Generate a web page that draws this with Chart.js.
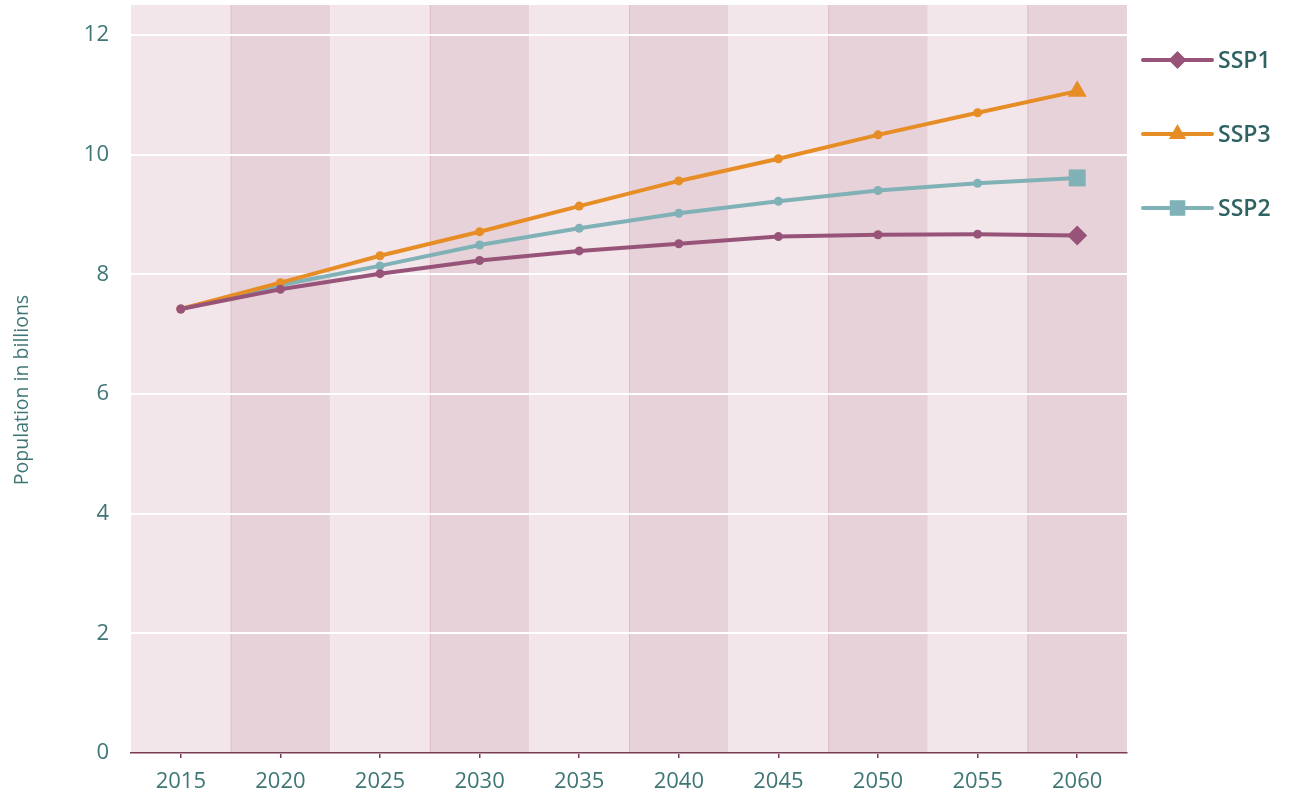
<!DOCTYPE html>
<html>
<head>
<meta charset="utf-8">
<script src="https://cdn.jsdelivr.net/npm/chart.js@4/dist/chart.umd.min.js"></script>
<style>
  html, body { margin: 0; padding: 0; background: #fff; }
  #wrap { width: 1293px; height: 798px; position: relative; }
</style>
</head>
<body>
<div id="wrap"><canvas id="popChart"></canvas></div>
<script>
// population projections, billions
const years = ['2015', '2020', '2025', '2030', '2035', '2040', '2045', '2050', '2055', '2060'];
const ssp1 = [7.42, 7.75, 8.01, 8.23, 8.39, 8.51, 8.63, 8.66, 8.67, 8.65];
const ssp3 = [7.42, 7.86, 8.31, 8.71, 9.14, 9.56, 9.93, 10.33, 10.70, 11.06];
const ssp2 = [7.42, 7.82, 8.14, 8.49, 8.77, 9.02, 9.22, 9.40, 9.52, 9.61];
const yTicks = [0, 2, 4, 6, 8, 10, 12];
const yTitle = 'Population in billions';

const colors = {
  ssp1: '#985478',
  ssp3: '#e68d26',
  ssp2: '#80b1b6',
  text: '#3e7676',
  legendText: '#2f6262',
  axis: '#7a3a55',
  bandLight: '#f3e6eb',
  bandDark: '#e8d2da',
  bandEdge: '#dcbcc8'
};
const FONT = "'Open Sans', 'Noto Sans', sans-serif";

// legend order and end-marker styles
const series = [
  { label: 'SSP1', data: ssp1, color: colors.ssp1, style: 'rectRot', radius: 10 },
  { label: 'SSP3', data: ssp3, color: colors.ssp3, style: 'triangle', radius: 11 },
  { label: 'SSP2', data: ssp2, color: colors.ssp2, style: 'rect', radius: 12 }
];

// alternating vertical bands behind the plot
const bandPlugin = {
  id: 'bands',
  beforeDraw(chart) {
    const { ctx, chartArea: a, scales: { x } } = chart;
    const w = x.getPixelForValue(1) - x.getPixelForValue(0);
    ctx.save();
    years.forEach((_, i) => {
      const cx = x.getPixelForValue(i);
      const l = Math.max(a.left, cx - w / 2), r = Math.min(a.right, cx + w / 2);
      ctx.fillStyle = i % 2 ? colors.bandDark : colors.bandLight;
      ctx.fillRect(l, a.top, r - l, a.bottom - a.top);
      if (i % 2) {
        ctx.fillStyle = colors.bandEdge;
        ctx.fillRect(l, a.top, 1, a.bottom - a.top);
      }
    });
    // rotated axis title, sits a little below the middle of the axis
    ctx.translate(22, 390);
    ctx.rotate(-Math.PI / 2);
    ctx.fillStyle = colors.text;
    ctx.font = '19.5px ' + FONT;
    ctx.textAlign = 'center';
    ctx.textBaseline = 'middle';
    ctx.fillText(yTitle, 0, 0);
    ctx.restore();
  }
};

// legend on the right: line with its marker, then the name
const sideLegend = {
  id: 'sideLegend',
  afterDraw(chart) {
    const ctx = chart.ctx;
    const x0 = 1143, x1 = 1212, rowY = [60, 134, 208];
    ctx.save();
    series.forEach((s, i) => {
      const y = rowY[i];
      ctx.strokeStyle = s.color;
      ctx.lineWidth = 4;
      ctx.lineCap = 'round';
      ctx.beginPath();
      ctx.moveTo(x0, y);
      ctx.lineTo(x1, y);
      ctx.stroke();
      ctx.fillStyle = s.color;
      Chart.helpers.drawPoint(ctx, { pointStyle: s.style, rotation: 0, radius: s.radius - 1, borderWidth: 0 }, (x0 + x1) / 2, y);
      ctx.fillStyle = colors.legendText;
      ctx.font = '600 23px ' + FONT;
      ctx.textBaseline = 'middle';
      ctx.fillText(s.label, 1218, y + 1);
    });
    ctx.restore();
  }
};

new Chart(document.getElementById('popChart'), {
  type: 'line',
  data: {
    labels: years,
    datasets: series.map(s => ({
      label: s.label,
      data: s.data,
      borderColor: s.color,
      backgroundColor: s.color,
      borderWidth: 4,
      tension: 0,
      pointBorderWidth: 0,
      pointStyle: ctx => ctx.dataIndex === years.length - 1 ? s.style : 'circle',
      pointRadius: ctx => ctx.dataIndex === years.length - 1 ? s.radius : 4.5
    }))
  },
  options: {
    responsive: true,
    maintainAspectRatio: false,
    animation: false,
    layout: { autoPadding: false, padding: { top: 5, right: 166, bottom: 0, left: 0 } },
    plugins: { legend: { display: false }, tooltip: { enabled: false } },
    scales: {
      x: {
        offset: true,
        grid: { drawOnChartArea: false, tickLength: 5, color: colors.axis, lineWidth: 1.5 },
        border: { color: colors.axis, width: 1.5 },
        ticks: { color: colors.text, font: { family: FONT, size: 22 }, padding: 11 },
        afterFit(scale) { scale.height = 45; }
      },
      y: {
        min: 0,
        max: 12.5,
        afterBuildTicks(scale) { scale.ticks = yTicks.map(v => ({ value: v })); },
        grid: { color: '#ffffff', lineWidth: 2, drawTicks: false },
        border: { display: false },
        ticks: { color: colors.text, font: { family: FONT, size: 22 }, padding: 22 },
        afterFit(scale) {
          scale.width = 131;
          scale.paddingTop = 0;
          scale.paddingBottom = 0;
        }
      }
    }
  },
  plugins: [bandPlugin, sideLegend]
});
</script>
</body>
</html>
